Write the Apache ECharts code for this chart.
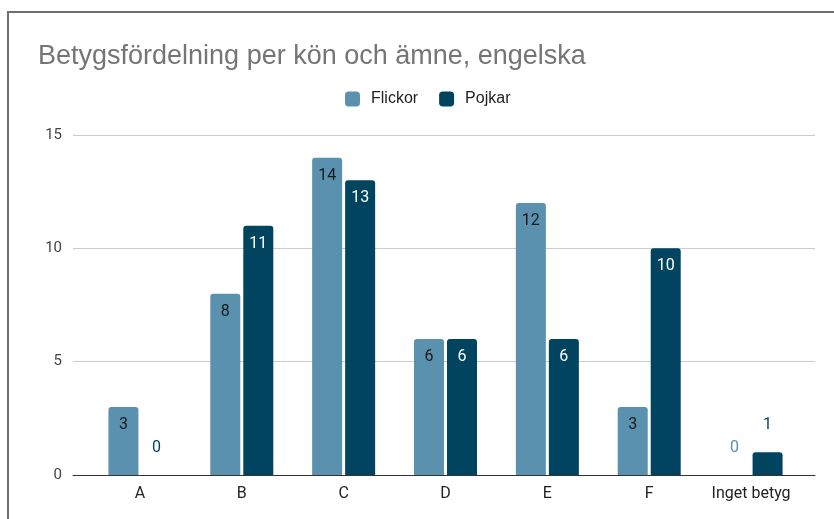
<!DOCTYPE html>
<html>
<head>
<meta charset="utf-8">
<script src="https://cdn.jsdelivr.net/npm/echarts@6/dist/echarts.min.js"></script>
<style>
  html, body { margin: 0; padding: 0; background: #fff; }
  #chart { width: 834px; height: 519px; }
</style>
</head>
<body>
<div id="chart"></div>
<script>
var categories = ['A', 'B', 'C', 'D', 'E', 'F', 'Inget betyg'];
var flickor = [3, 8, 14, 6, 12, 3, 0];
var pojkar = [0, 11, 13, 6, 6, 10, 1];
var yTicks = [0, 5, 10, 15];

var colFlickor = '#5991ae',
    colPojkar = '#00445f';

// labels inside the bar, or above it when the bar is too short
function barData(values, color, insideColor) {
    var out = [];
    for (var i = 0; i < values.length; i++) {
        var v = values[i];
        if (v <= 1) {
            out.push({value: v, label: {position: 'top', distance: 19, color: color}});
        } else {
            out.push({value: v, label: {position: 'insideTop', distance: 10, color: insideColor}});
        }
    }
    return out;
}

var myChart = echarts.init(document.getElementById('chart'));

var option = {
    backgroundColor: '#fff',
    animation: false,
    title: {
        text: 'Betygsfördelning per kön och ämne, engelska',
        left: 33,
        top: 38,
        textStyle: {
            fontFamily: 'Liberation Sans',
            fontSize: 27,
            fontWeight: 'normal',
            color: '#757575'
        }
    },
    legend: {
        left: 340,
        top: 86,
        itemWidth: 15,
        itemHeight: 15,
        itemGap: 21,
        icon: 'roundRect',
        textStyle: {
            fontFamily: 'Liberation Sans',
            fontSize: 16,
            color: '#222',
            padding: [0, 0, 0, 6]
        },
        data: ['Flickor', 'Pojkar']
    },
    graphic: [{
        type: 'rect',
        shape: {x: 8, y: 12, width: 900, height: 600},
        style: {fill: 'none', stroke: '#6e6e6e', lineWidth: 2},
        silent: true
    }],
    grid: [
        {left: 89, width: 713, top: 135, bottom: 44},
        {left: 73, right: 19, top: 135, bottom: 44}
    ],
    xAxis: [
        {
            type: 'category',
            gridIndex: 0,
            data: categories,
            axisLine: {show: false},
            axisTick: {show: false},
            axisLabel: {
                interval: 0,
                margin: 11,
                fontFamily: 'Roboto',
                fontSize: 16,
                color: '#222'
            }
        },
        {
            type: 'category',
            gridIndex: 1,
            data: [''],
            axisLine: {show: true, lineStyle: {color: '#333', width: 1}},
            axisTick: {show: false},
            axisLabel: {show: false}
        }
    ],
    yAxis: [
        {
            type: 'value',
            gridIndex: 0,
            min: yTicks[0],
            max: yTicks[yTicks.length - 1],
            interval: 5,
            axisLabel: {show: false},
            splitLine: {show: false}
        },
        {
            type: 'value',
            gridIndex: 1,
            min: yTicks[0],
            max: yTicks[yTicks.length - 1],
            interval: 5,
            axisLabel: {
                margin: 11,
                fontFamily: 'Roboto',
                fontSize: 15,
                color: '#444'
            },
            splitLine: {lineStyle: {color: '#cccccc', width: 1}}
        }
    ],
    series: [
        {
            name: 'Flickor',
            type: 'bar',
            xAxisIndex: 0,
            yAxisIndex: 0,
            barWidth: 30,
            barGap: '10%',
            itemStyle: {color: colFlickor, borderRadius: [3, 3, 0, 0]},
            label: {
                show: true,
                fontFamily: 'Roboto',
                fontSize: 16
            },
            data: barData(flickor, colFlickor, '#1a1a1a')
        },
        {
            name: 'Pojkar',
            type: 'bar',
            xAxisIndex: 0,
            yAxisIndex: 0,
            barWidth: 30,
            barGap: '10%',
            itemStyle: {color: colPojkar, borderRadius: [3, 3, 0, 0]},
            label: {
                show: true,
                fontFamily: 'Roboto',
                fontSize: 16
            },
            data: barData(pojkar, colPojkar, '#ffffff')
        }
    ]
};

myChart.setOption(option);
</script>
</body>
</html>
